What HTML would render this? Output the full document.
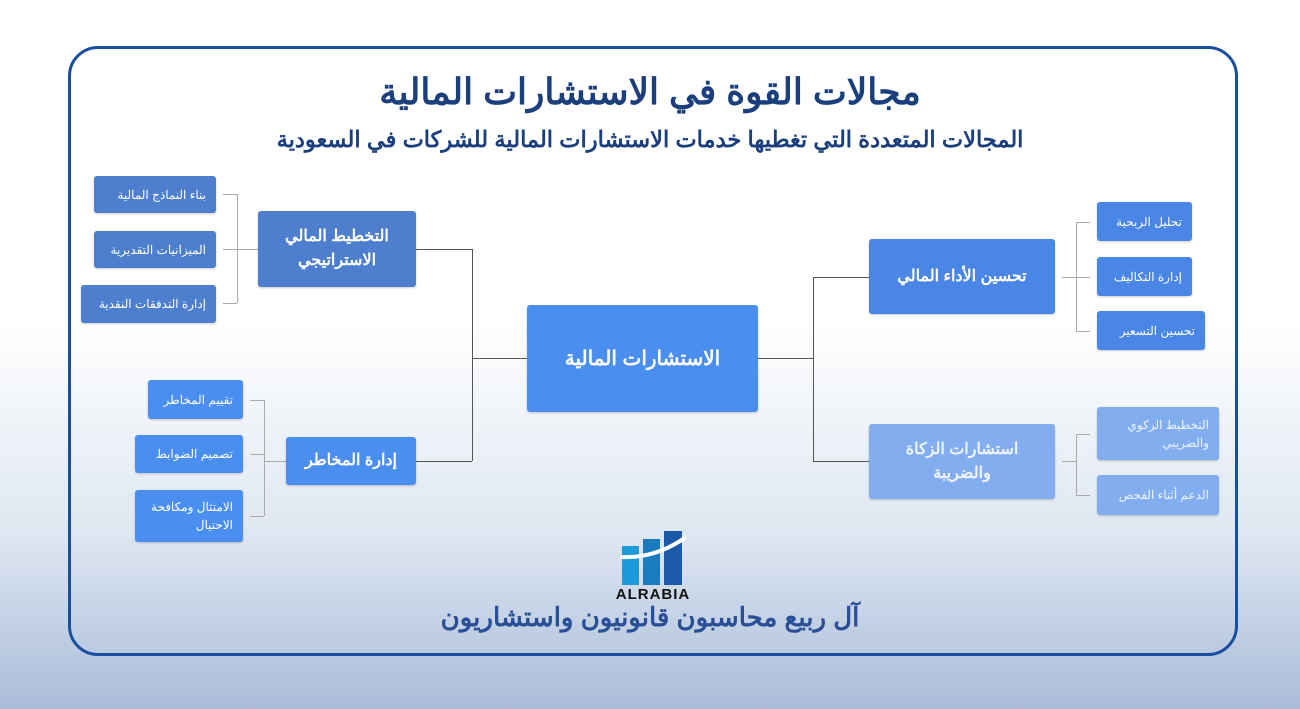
<!DOCTYPE html>
<html><head><meta charset="utf-8"><style>
body{margin:0;width:1300px;height:709px;overflow:hidden;background:linear-gradient(180deg,#fff 0%,#fff 45%,#dfe7f2 75%,#a9bcd9 100%);font-family:"Liberation Sans","Noto Sans CJK SC",sans-serif;position:relative}
.frame{position:absolute;left:68px;top:46px;width:1164px;height:604px;border:3px solid #1a4fa0;border-radius:30px}
.t{position:absolute;left:0;width:1300px;text-align:center;color:#1b3f7d;font-weight:bold;direction:rtl}
.b{position:absolute;display:flex;align-items:center;justify-content:center;text-align:center;color:#fff;direction:rtl;border-radius:3px;box-shadow:0 1px 2px rgba(0,0,0,.2);line-height:1.5}
.s{font-size:12px;justify-content:flex-start;padding-right:10px;box-sizing:border-box;text-align:right}
.d{background:#4e7fcf}.m{background:#4a8ef0}.p{background:#4a86e6}.l{background:#82aef0;color:#eef4ff}
.h{position:absolute;height:1px;background:#555}.v{position:absolute;width:1px;background:#555}
.g{background:#aaa}
</style></head><body>
<div class="frame"></div>
<div class="t" style="top:71px;font-size:36px">مجالات القوة في الاستشارات المالية</div>
<div class="t" style="top:127px;font-size:22.5px">المجالات المتعددة التي تغطيها خدمات الاستشارات المالية للشركات في السعودية</div>

<div class="h" style="left:416px;top:249px;width:56px"></div>
<div class="h" style="left:416px;top:461px;width:56px"></div>
<div class="v" style="left:472px;top:249px;height:212px"></div>
<div class="h" style="left:472px;top:358px;width:55px"></div>
<div class="h" style="left:758px;top:358px;width:55px"></div>
<div class="v" style="left:813px;top:277px;height:184px"></div>
<div class="h" style="left:813px;top:277px;width:56px"></div>
<div class="h" style="left:813px;top:461px;width:56px"></div>

<div class="v g" style="left:237px;top:194px;height:109px"></div>
<div class="h g" style="left:223px;top:194px;width:14px"></div>
<div class="h g" style="left:223px;top:249px;width:35px"></div>
<div class="h g" style="left:223px;top:303px;width:14px"></div>
<div class="v g" style="left:264px;top:400px;height:116px"></div>
<div class="h g" style="left:250px;top:400px;width:14px"></div>
<div class="h g" style="left:250px;top:454px;width:14px"></div>
<div class="h g" style="left:250px;top:516px;width:14px"></div>
<div class="h g" style="left:264px;top:461px;width:22px"></div>
<div class="v g" style="left:1076px;top:222px;height:109px"></div>
<div class="h g" style="left:1076px;top:222px;width:14px"></div>
<div class="h g" style="left:1062px;top:277px;width:28px"></div>
<div class="h g" style="left:1076px;top:331px;width:14px"></div>
<div class="v g" style="left:1076px;top:434px;height:61px"></div>
<div class="h g" style="left:1076px;top:434px;width:14px"></div>
<div class="h g" style="left:1062px;top:461px;width:14px"></div>
<div class="h g" style="left:1076px;top:495px;width:14px"></div>

<div class="b m" style="left:527px;top:305px;width:231px;height:107px;font-size:20px;font-weight:bold">الاستشارات المالية</div>
<div class="b d" style="left:258px;top:211px;width:158px;height:76px;font-size:16px;font-weight:bold">التخطيط المالي<br>الاستراتيجي</div>
<div class="b m" style="left:286px;top:437px;width:130px;height:48px;font-size:16px;font-weight:bold">إدارة المخاطر</div>
<div class="b d s" style="left:94px;top:176px;width:122px;height:37px">بناء النماذج المالية</div>
<div class="b d s" style="left:94px;top:231px;width:122px;height:37px">الميزانيات التقديرية</div>
<div class="b d s" style="left:81px;top:285px;width:135px;height:38px">إدارة التدفقات النقدية</div>
<div class="b m s" style="left:148px;top:380px;width:95px;height:39px">تقييم المخاطر</div>
<div class="b m s" style="left:135px;top:435px;width:108px;height:38px">تصميم الضوابط</div>
<div class="b m s" style="left:135px;top:490px;width:108px;height:52px">الامتثال ومكافحة<br>الاحتيال</div>
<div class="b p" style="left:869px;top:239px;width:186px;height:75px;font-size:16px;font-weight:bold">تحسين الأداء المالي</div>
<div class="b l" style="left:869px;top:424px;width:186px;height:75px;font-size:16px;font-weight:bold">استشارات الزكاة<br>والضريبة</div>
<div class="b p s" style="left:1097px;top:202px;width:95px;height:39px">تحليل الربحية</div>
<div class="b p s" style="left:1097px;top:257px;width:95px;height:39px">إدارة التكاليف</div>
<div class="b p s" style="left:1097px;top:311px;width:108px;height:39px">تحسين التسعير</div>
<div class="b l s" style="left:1097px;top:407px;width:122px;height:53px">التخطيط الزكوي<br>والضريبي</div>
<div class="b l s" style="left:1097px;top:475px;width:122px;height:40px">الدعم أثناء الفحص</div>

<svg style="position:absolute;left:620px;top:529px" width="66" height="56" viewBox="0 0 66 56">
<rect x="2" y="17" width="17" height="39" fill="#1e9ad8"/>
<rect x="23" y="10" width="17" height="46" fill="#1a7bc0"/>
<rect x="44" y="2" width="18" height="54" fill="#1a5aa8"/>
<path d="M0 28 Q35 30 66 8" stroke="#fff" stroke-width="4" fill="none"/>
</svg>
<div style="position:absolute;left:600px;top:586px;width:106px;text-align:center;font-weight:bold;font-size:15px;color:#111;letter-spacing:1px">ALRABIA</div>
<div class="t" style="top:602px;font-size:26px;color:#2b4f96">آل ربيع محاسبون قانونيون واستشاريون</div>
</body></html>
